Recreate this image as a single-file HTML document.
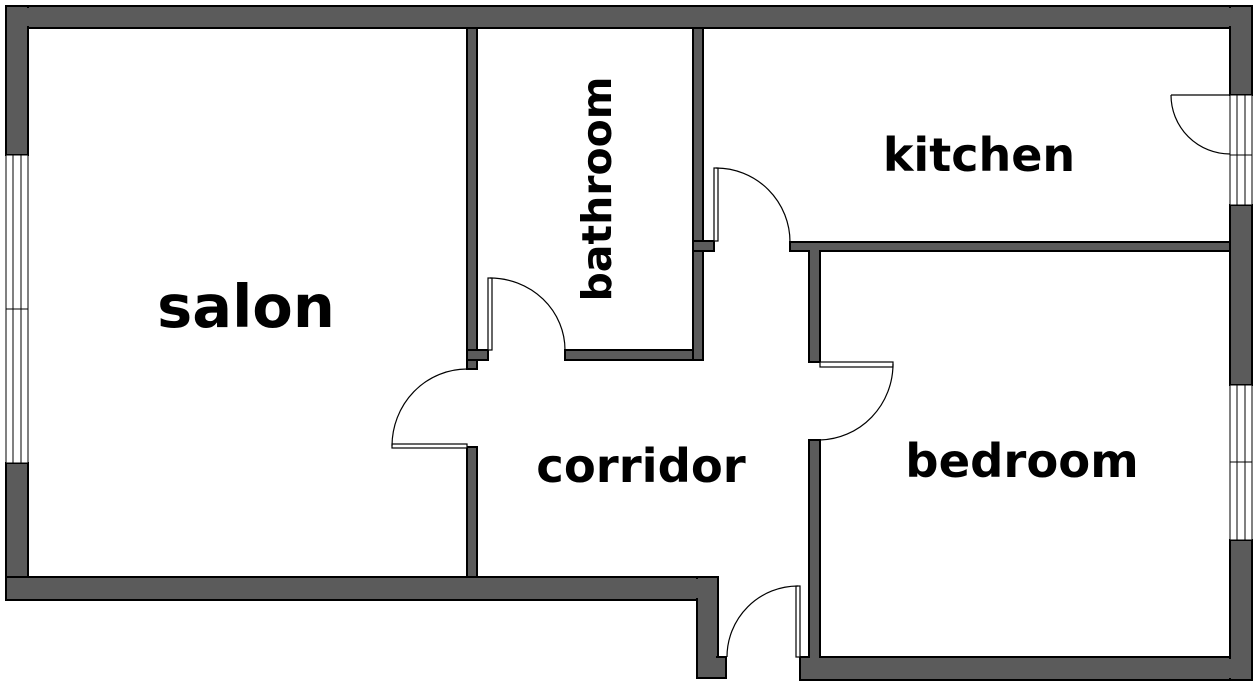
<!DOCTYPE html>
<html><head><meta charset="utf-8"><style>
html,body{margin:0;padding:0;background:#fff;}
svg{display:block;}
text{font-family:"DejaVu Sans","Liberation Sans",sans-serif;font-weight:bold;fill:#000;}
</style></head><body>
<svg width="1260" height="690" viewBox="0 0 1260 690" xmlns="http://www.w3.org/2000/svg">
<rect width="1260" height="690" fill="#fff"/>
<g fill="#5b5b5b" stroke="#000" stroke-width="2">
<rect x="6" y="6" width="1246" height="22"/>
<rect x="6" y="6" width="22" height="149"/>
<rect x="6" y="463" width="22" height="137"/>
<rect x="6" y="577" width="712" height="23"/>
<rect x="697" y="577" width="21" height="101"/>
<rect x="697" y="657" width="29" height="21"/>
<rect x="800" y="657" width="452" height="23"/>
<rect x="1230" y="6" width="22" height="89"/>
<rect x="1230" y="205" width="22" height="180"/>
<rect x="1230" y="540" width="22" height="140"/>
<rect x="467" y="28" width="10" height="341"/>
<rect x="467" y="350" width="21" height="10"/>
<rect x="467" y="447" width="10" height="130"/>
<rect x="565" y="350" width="138" height="10"/>
<rect x="693" y="28" width="10" height="332"/>
<rect x="693" y="241" width="21" height="10"/>
<rect x="790" y="242" width="440" height="9"/>
<rect x="809" y="242" width="11" height="120"/>
<rect x="809" y="440" width="11" height="217"/>
</g>
<g fill="#fff">
<rect x="29" y="29" width="437" height="547"/>
<rect x="821" y="252" width="408" height="404"/>
</g>
<g fill="#5b5b5b">
<rect x="8" y="8" width="1242" height="18"/>
<rect x="8" y="579" width="708" height="19"/>
<rect x="698" y="579" width="18" height="97"/>
<rect x="802" y="659" width="448" height="19"/>
<rect x="810" y="250" width="9" height="111"/>
<rect x="810" y="441" width="9" height="218"/>
<rect x="791" y="243" width="438" height="7"/>
</g>
<g fill="#fff" stroke="#000" stroke-width="1">
<rect x="6" y="155" width="22" height="308"/>
<rect x="13" y="155" width="8" height="308"/>
<line x1="6" y1="309" x2="28" y2="309"/>
<rect x="1230" y="95" width="22" height="110"/>
<rect x="1237" y="95" width="8" height="110"/>
<line x1="1230" y1="155" x2="1252" y2="155"/>
<rect x="1230" y="385" width="22" height="155"/>
<rect x="1237" y="385" width="8" height="155"/>
<line x1="1230" y1="462" x2="1252" y2="462"/>
</g>
<g fill="none" stroke="#000" stroke-width="1.2">
<rect x="392" y="444" width="75" height="4" fill="#fff"/>
<path d="M392 446 A75 77 0 0 1 467 369"/>
<rect x="488" y="278" width="4" height="72" fill="#fff"/>
<path d="M490 278 A75 72 0 0 1 565 350"/>
<rect x="714" y="168" width="4" height="73" fill="#fff"/>
<path d="M716 168 A74 74 0 0 1 790 242"/>
<rect x="820" y="362" width="73" height="5" fill="#fff"/>
<path d="M893 364 A75 76 0 0 1 820 440"/>
<rect x="796" y="586" width="4" height="71" fill="#fff"/>
<path d="M798 586 A71 71 0 0 0 727 657"/>
<line x1="1171" y1="95" x2="1230" y2="95"/>
<path d="M1171 95 A59 59 0 0 0 1230 154"/>
</g>
<text x="246" y="327" font-size="59" text-anchor="middle">salon</text>
<text x="0" y="0" font-size="41" text-anchor="middle" transform="translate(611,189) rotate(-90)">bathroom</text>
<text x="979" y="171" font-size="46" text-anchor="middle">kitchen</text>
<text x="641" y="482" font-size="46.5" text-anchor="middle">corridor</text>
<text x="1022" y="477" font-size="46.5" text-anchor="middle">bedroom</text>
</svg>
</body></html>
